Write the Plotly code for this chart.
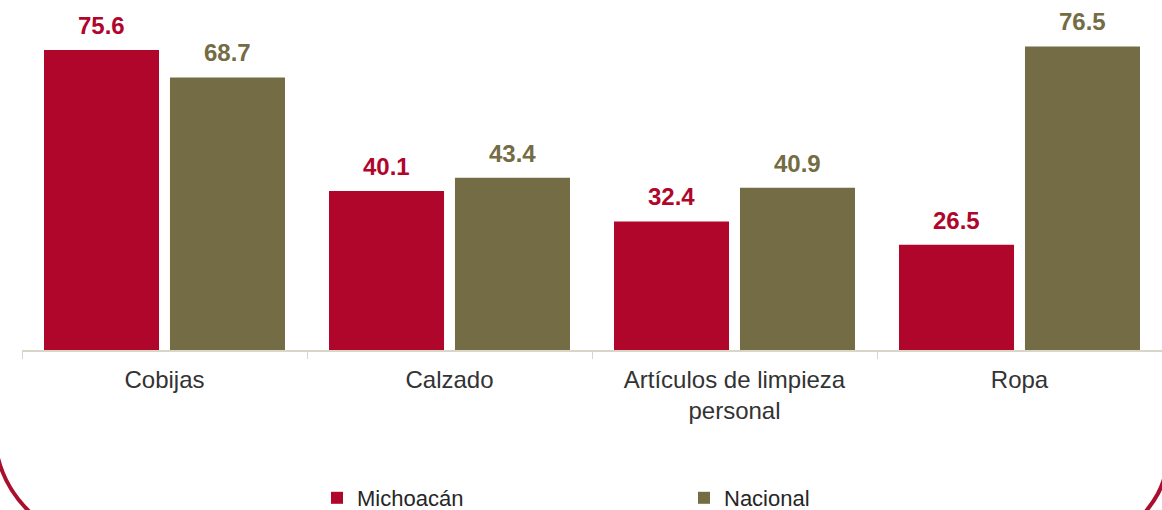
import plotly.graph_objects as go

# Data
categories = ["Cobijas", "Calzado", "Artículos de limpieza<br>personal", "Ropa"]
michoacan = [75.6, 40.1, 32.4, 26.5]
nacional = [68.7, 43.4, 40.9, 76.5]

RED = "#B0062C"
OLIVE = "#736C44"
AXIS = "#D9D6C8"
TEXT = "#333333"
FONT = "Liberation Sans, Arial, sans-serif"

W, H = 1162, 510
ML, MR, MT, MB = 22, 0, 0, 160

fig = go.Figure()
fig.add_trace(go.Bar(name="Michoacán", x=categories, y=michoacan,
                     marker=dict(color=RED, line=dict(width=0))))
fig.add_trace(go.Bar(name="Nacional", x=categories, y=nacional,
                     marker=dict(color=OLIVE, line=dict(width=0))))

# Value labels above each bar
for vals, color, shift in [(michoacan, RED, -63), (nacional, OLIVE, 63)]:
    for cat, v in zip(categories, vals):
        fig.add_annotation(x=cat, y=v, text=f"<b>{v:.1f}</b>", showarrow=False,
                           xshift=shift, yshift=9, yanchor="bottom",
                           font=dict(family=FONT, size=24, color=color))

# Rounded frame corners at the bottom of the panel (pixel -> paper helpers)
pw, ph = W - ML - MR, H - MT - MB
def px(x):
    return (x - ML) / pw
def py(y):
    return (H - MB - y) / ph

left_arc = (f"M {px(-2)},{py(458)} C {px(4)},{py(482)} {px(16)},{py(500)} {px(34)},{py(516)}")
right_arc = (f"M {px(1166)},{py(472)} C {px(1162)},{py(488)} {px(1156)},{py(500)} {px(1142)},{py(516)}")
for p in (left_arc, right_arc):
    fig.add_shape(type="path", path=p, xref="paper", yref="paper",
                  line=dict(color="#A8102E", width=4), layer="above")

fig.update_layout(
    width=W, height=H,
    margin=dict(l=ML, r=MR, t=MT, b=MB, autoexpand=False),
    paper_bgcolor="white", plot_bgcolor="white",
    barmode="group", bargap=0.116, bargroupgap=0.087,
    font=dict(family=FONT, color=TEXT, size=22),
    showlegend=True,
    legend=dict(orientation="h", x=px(317), xanchor="left",
                y=py(498), yanchor="middle",
                entrywidth=322, entrywidthmode="pixels",
                font=dict(family=FONT, size=22, color="#262626"),
                bgcolor="rgba(0,0,0,0)"),
    xaxis=dict(showline=True, linecolor=AXIS, linewidth=2,
               ticks="outside", tickson="boundaries", ticklen=7,
               tickcolor=AXIS, tickwidth=1, ticklabelstandoff=7,
               tickfont=dict(family=FONT, size=24, color=TEXT),
               showgrid=False),
    yaxis=dict(range=[0, 350 / 3.968], visible=False, showgrid=False,
               zeroline=False),
)

fig.write_html("out.html")
